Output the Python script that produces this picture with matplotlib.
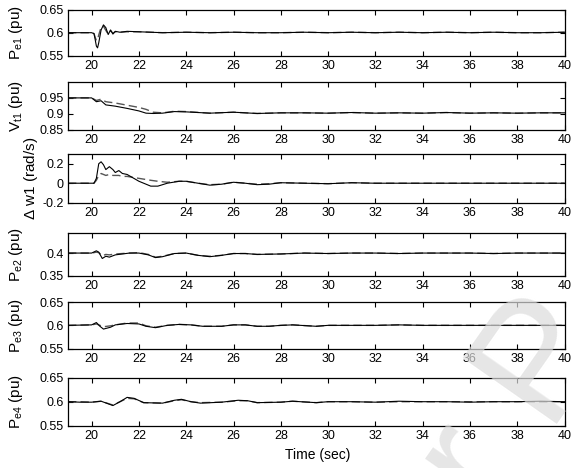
import matplotlib
matplotlib.use("Agg")
import matplotlib.pyplot as plt

plt.rcParams['font.family'] = ['Liberation Sans', 'DejaVu Sans']
plt.rcParams['mathtext.fontset'] = 'custom'
plt.rcParams['mathtext.rm'] = 'Liberation Sans'

# ---- datos (tiempo en s) ----
t_pe1 = [19, 20.0, 20.1, 20.15, 20.2, 20.25, 20.3, 20.4, 20.5, 20.6, 20.7, 20.8, 20.9, 21.0, 21.2,
         21.5, 22, 23, 24, 25, 26, 27, 28, 29, 30, 31, 32, 33, 34, 35, 36, 37, 38, 39, 40]
pe1_sol = [0.6, 0.6, 0.598, 0.585, 0.571, 0.567, 0.578, 0.606, 0.617, 0.611, 0.596, 0.606, 0.597,
           0.603, 0.601, 0.603, 0.602, 0.600, 0.601, 0.600, 0.601, 0.600, 0.600, 0.601, 0.600,
           0.601, 0.600, 0.601, 0.600, 0.601, 0.600, 0.601, 0.600, 0.600, 0.601]
pe1_das = [0.6, 0.6, 0.598, 0.590, 0.583, 0.585, 0.595, 0.612, 0.614, 0.605, 0.597, 0.604, 0.599,
           0.602, 0.601, 0.602, 0.602, 0.600, 0.601, 0.600, 0.601, 0.600, 0.600, 0.601, 0.600,
           0.601, 0.600, 0.601, 0.600, 0.601, 0.600, 0.601, 0.600, 0.600, 0.601]

t_vt1 = [19, 20.0, 20.2, 20.4, 20.6, 21.0, 21.5, 22.0, 22.3, 22.6, 23.0, 23.5, 24, 25, 26, 27, 28,
         29, 30, 31, 32, 33, 34, 35, 36, 37, 38, 39, 40]
vt1_sol = [0.95, 0.95, 0.938, 0.941, 0.928, 0.924, 0.917, 0.909, 0.902, 0.901, 0.902, 0.907, 0.906,
           0.902, 0.905, 0.901, 0.903, 0.903, 0.902, 0.904, 0.902, 0.903, 0.902, 0.904, 0.902,
           0.903, 0.902, 0.903, 0.903]
vt1_das = [0.95, 0.95, 0.942, 0.946, 0.938, 0.934, 0.927, 0.920, 0.914, 0.905, 0.903, 0.908, 0.907,
           0.902, 0.905, 0.901, 0.903, 0.903, 0.902, 0.904, 0.902, 0.903, 0.902, 0.904, 0.902,
           0.903, 0.902, 0.903, 0.903]

t_dw1 = [19, 20.1, 20.2, 20.3, 20.4, 20.5, 20.6, 20.75, 20.9, 21.0, 21.15, 21.3, 21.5, 22.0, 22.5,
         22.8, 23.2, 23.7, 24.0, 24.5, 25.0, 25.5, 26.0, 26.5, 27.0, 27.5, 28, 29, 30, 31, 32, 33,
         34, 35, 36, 37, 38, 39, 40]
dw1_sol = [0, 0, 0.05, 0.20, 0.22, 0.19, 0.14, 0.17, 0.14, 0.11, 0.13, 0.10, 0.09, 0.02, -0.03,
           -0.03, 0.0, 0.02, 0.02, 0.0, -0.02, -0.01, 0.01, 0.0, -0.015, -0.01, 0.005, 0.0, -0.005,
           0.005, 0.0, 0.0, 0.0, 0.0, 0.0, 0.0, 0.0, 0.0, 0.0]
dw1_das = [0, 0, 0.03, 0.08, 0.10, 0.09, 0.08, 0.09, 0.08, 0.08, 0.08, 0.07, 0.07, 0.05, 0.03,
           0.02, 0.01, 0.02, 0.02, 0.0, -0.015, -0.01, 0.01, 0.0, -0.01, -0.005, 0.005, 0.0,
           -0.005, 0.005, 0.0, 0.0, 0.0, 0.0, 0.0, 0.0, 0.0, 0.0, 0.0]

t_pe2 = [19, 20.0, 20.2, 20.3, 20.45, 20.6, 20.75, 21.0, 21.3, 21.6, 22.0, 22.4, 22.7, 23.0, 23.5,
         24.0, 24.5, 25.0, 25.5, 26.0, 26.5, 27, 28, 29, 30, 31, 32, 33, 34, 35, 36, 37, 38, 39, 40]
pe2_sol = [0.4, 0.4, 0.405, 0.402, 0.388, 0.393, 0.391, 0.396, 0.398, 0.400, 0.400, 0.396, 0.390,
           0.392, 0.399, 0.400, 0.395, 0.392, 0.395, 0.399, 0.399, 0.397, 0.398, 0.400, 0.399,
           0.400, 0.400, 0.399, 0.400, 0.400, 0.400, 0.399, 0.400, 0.400, 0.400]
pe2_das = [0.4, 0.4, 0.402, 0.401, 0.394, 0.397, 0.396, 0.398, 0.399, 0.400, 0.401, 0.397, 0.391,
           0.393, 0.399, 0.400, 0.395, 0.393, 0.395, 0.399, 0.399, 0.397, 0.398, 0.400, 0.399,
           0.400, 0.400, 0.399, 0.400, 0.400, 0.400, 0.399, 0.400, 0.400, 0.400]

t_pe3 = [19, 20.0, 20.2, 20.35, 20.5, 20.8, 21.0, 21.5, 22.0, 22.3, 22.7, 23.2, 23.7, 24.2, 24.7,
         25.5, 26.0, 26.5, 27.0, 27.5, 28.0, 28.5, 29.5, 30, 31, 32, 33, 34, 35, 36, 37, 38, 39, 40]
pe3_sol = [0.6, 0.601, 0.606, 0.598, 0.592, 0.596, 0.601, 0.604, 0.603, 0.598, 0.595, 0.600,
           0.602, 0.601, 0.598, 0.598, 0.601, 0.601, 0.598, 0.598, 0.600, 0.601, 0.598, 0.600,
           0.600, 0.600, 0.601, 0.600, 0.600, 0.600, 0.600, 0.600, 0.600, 0.600]
pe3_das = [0.6, 0.601, 0.603, 0.600, 0.597, 0.599, 0.601, 0.605, 0.605, 0.599, 0.596, 0.600,
           0.602, 0.601, 0.598, 0.598, 0.601, 0.601, 0.598, 0.598, 0.600, 0.601, 0.598, 0.600,
           0.600, 0.600, 0.601, 0.600, 0.600, 0.600, 0.600, 0.600, 0.600, 0.600]

t_pe4 = [19, 19.5, 20.0, 20.4, 20.9, 21.2, 21.5, 21.8, 22.2, 23.0, 23.5, 23.8, 24.2, 24.6, 25.5,
         26.2, 26.6, 27.0, 28.0, 28.5, 29.5, 30, 31, 32, 33, 34, 35, 36, 37, 38, 39, 40]
pe4_sol = [0.6, 0.599, 0.599, 0.601, 0.592, 0.600, 0.609, 0.607, 0.598, 0.597, 0.603, 0.605,
           0.600, 0.597, 0.599, 0.603, 0.602, 0.598, 0.599, 0.601, 0.598, 0.600, 0.600, 0.599,
           0.601, 0.600, 0.600, 0.599, 0.600, 0.600, 0.601, 0.600]
pe4_das = [0.6, 0.600, 0.599, 0.601, 0.593, 0.600, 0.607, 0.606, 0.598, 0.597, 0.602, 0.604,
           0.600, 0.598, 0.599, 0.602, 0.602, 0.598, 0.599, 0.601, 0.598, 0.600, 0.600, 0.599,
           0.600, 0.600, 0.600, 0.600, 0.600, 0.600, 0.600, 0.600]

paneles = [
    (t_pe1, pe1_sol, pe1_das, 'P$_{\\rm e1}$ (pu)', (0.55, 0.65), [0.55, 0.6, 0.65], ['0.55', '0.6', '0.65']),
    (t_vt1, vt1_sol, vt1_das, 'V$_{\\rm t1}$ (pu)', (0.85, 1.0), [0.85, 0.9, 0.95], ['0.85', '0.9', '0.95']),
    (t_dw1, dw1_sol, dw1_das, '$\\Delta$ w1 (rad/s)', (-0.2, 0.3), [-0.2, 0, 0.2], ['-0.2', '0', '0.2']),
    (t_pe2, pe2_sol, pe2_das, 'P$_{\\rm e2}$ (pu)', (0.35, 0.445), [0.35, 0.4], ['0.35', '0.4']),
    (t_pe3, pe3_sol, pe3_das, 'P$_{\\rm e3}$ (pu)', (0.55, 0.65), [0.55, 0.6, 0.65], ['0.55', '0.6', '0.65']),
    (t_pe4, pe4_sol, pe4_das, 'P$_{\\rm e4}$ (pu)', (0.55, 0.65), [0.55, 0.6, 0.65], ['0.55', '0.6', '0.65']),
]

# posiciones de los paneles en pixeles (arriba, abajo) y borde derecho de cada ylabel
W, H = 571, 468
cajas = [(9.7, 55.7), (82, 129.7), (154, 202.7), (232.7, 275.7), (302, 348.7), (377.7, 425.7)]
x_label = [25, 25, 40, 25, 25, 25]
izq, der = 68, 564.5

fig = plt.figure(figsize=(W / 100, H / 100), dpi=100)

for (t, sol, das, lab, ylim, yt, ytl), (arr, aba), xl in zip(paneles, cajas, x_label):
    ax = fig.add_axes([izq / W, 1 - aba / H, (der - izq) / W, (aba - arr) / H])
    ax.plot(t, das, color='#555555', linestyle=(0, (6, 3)), linewidth=1.0)
    ax.plot(t, sol, color='black', linewidth=0.8)
    ax.set_xlim(19, 40)
    ax.set_ylim(*ylim)
    ax.set_xticks(range(20, 41, 2))
    ax.set_yticks(yt)
    ax.set_yticklabels(ytl)
    ax.tick_params(direction='in', top=True, right=True, length=3.5, width=0.8,
                   labelsize=9, pad=3)
    for s in ax.spines.values():
        s.set_linewidth(0.9)
    ax.set_ylabel(lab, fontsize=11)
    ax.yaxis.set_label_coords((xl - izq) / (der - izq), 0.5)

fig.text(318 / W, 1 - 455 / H, 'Time (sec)', ha='center', va='center', fontsize=10)

# marca de agua (recortada por el borde, como en el original)
fig.text(0.767, -0.269, 'or P', rotation=55, rotation_mode='anchor', ha='left', va='baseline',
         fontsize=120, color='#dcdcdc', alpha=0.7, zorder=10)

fig.savefig('out.png', dpi=100)
